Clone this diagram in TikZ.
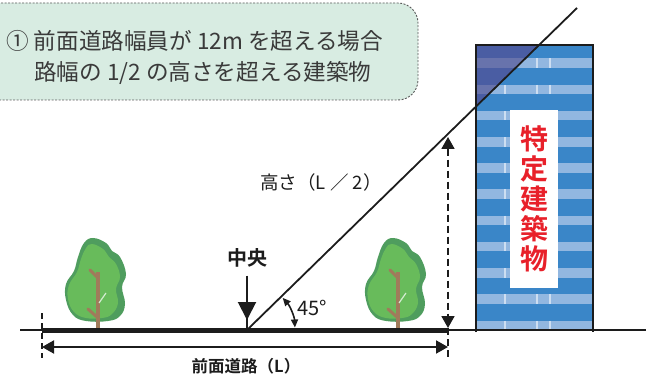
\documentclass[tikz,border=0pt]{standalone}
\usepackage{fontspec}
\usetikzlibrary{arrows.meta}
\newfontfamily\jp[BoldFont={Noto Sans CJK JP Bold}]{Noto Sans CJK JP}

\definecolor{titlefill}{HTML}{D8ECE2}
\definecolor{titleline}{HTML}{5A5A5A}
\definecolor{textgray}{HTML}{3A3A3A}
\definecolor{bldblue}{HTML}{3A86C8}
\definecolor{bldstripe}{HTML}{92B7E0}
\definecolor{bldnavy}{HTML}{4A5DA3}
\definecolor{navystripe}{HTML}{6873AC}
\definecolor{signred}{HTML}{E8202A}
\definecolor{leafdark}{HTML}{4F9D5E}
\definecolor{leaflight}{HTML}{68BB5B}
\definecolor{bark}{HTML}{A07B5B}
\definecolor{inkblack}{HTML}{1C1C1C}

\tikzset{
  bigtip/.tip={Triangle[length=12pt,width=13pt]},
  smalltip/.tip={Triangle[length=8pt,width=7pt]},
  dimline/.style={draw=inkblack, line width=2pt},
  dashline/.style={draw=inkblack, line width=1.8pt, dash pattern=on 7pt off 4pt},
  labeltext/.style={font=\jp\fontsize{18.5}{18.5}\selectfont, text=inkblack, inner sep=0pt},
  tree/.pic={
    % outer darker foliage
    \fill[leafdark] plot[smooth cycle, tension=0.7] coordinates {
      (-5,-92) (8,-87) (14,-79) (22,-73) (28,-56) (24,-43) (27,-26) (22,-14)
      (10,-9) (-12,-9) (-25,-15) (-32,-30) (-32,-46) (-24,-59) (-20,-73) (-14,-87)};
    % inner lighter foliage
    \fill[leaflight] plot[smooth cycle, tension=0.7] coordinates {
      (-6,-86) (5,-81) (11,-73) (18,-66) (22,-53) (18,-41) (20,-27) (14,-16)
      (4,-12) (-12,-12) (-24,-18) (-30,-31) (-29,-45) (-21,-58) (-17,-71) (-12,-82)};
    % trunk and branches
    \draw[bark, line width=4pt] (0,0) -- (0,-58);
    \draw[bark, line width=3pt, line cap=round] (0,-52) -- (-8,-60);
    \draw[bark, line width=3pt, line cap=round] (-1,-13) -- (-10,-21);
    \draw[white!70!leaflight, line width=1.2pt] (1,-27) -- (8,-37);
  }
}

\begin{document}
\begin{tikzpicture}[x=1pt, y=-1pt]
\useasboundingbox (0,0) rectangle (646,377);

% ---- heading panel ----
\begin{scope}
  \clip (0,0) rectangle (646,377);
  \draw[titleline, fill=titlefill, line width=0.9pt, dash pattern=on 2pt off 1.5pt, rounded corners=20pt]
    (-20,3) rectangle (418,100);
\end{scope}
\node[anchor=west, font=\jp\fontsize{22.6}{22.6}\selectfont, text=textgray, inner sep=0pt]
  (line1) at (6,41) {① 前面道路幅員が 12m を超える場合};
\node[anchor=west, font=\jp\fontsize{22.6}{22.6}\selectfont, text=textgray, inner sep=0pt]
  (line2) at (34,73) {路幅の 1/2 の高さを超える建築物};

% ---- key points (y grows downwards) ----
\coordinate (O) at (247,330);     % road centre
\coordinate (T) at (577,8);       % top of the 45 degree line
\coordinate (GL) at (20,330);
\coordinate (GR) at (646,330);
\coordinate (RL) at (42,330);
\coordinate (RR) at (448,330);

% ---- building ----
\begin{scope}
  \clip (476,45) rectangle (593,331);
  \fill[bldblue] (476,45) rectangle (593,331);
  \foreach \k in {0,...,10} {
    \fill[bldstripe] (476,{58.5+26.2*\k}) rectangle (593,{68+26.2*\k});
    \foreach \vx in {505,537,550}
      \draw[white, opacity=0.55, line width=1.6pt] (\vx,{58.5+26.2*\k}) -- (\vx,{68+26.2*\k});
  }
  % shaded part beyond the slant line
  \clip (O) -- (T) -- (247,0) -- cycle;
  \fill[bldnavy] (476,45) rectangle (593,331);
  \foreach \k in {0,...,3}
    \fill[navystripe] (476,{58.5+26.2*\k}) rectangle (593,{68+26.2*\k});
\end{scope}
\draw[inkblack, line width=2.4pt] (476,332) -- (476,45) -- (593,45) -- (593,332);
\fill[white] (510,110) rectangle (558,288);
\node[font=\jp\bfseries\fontsize{28}{30}\selectfont, text=signred, align=center, inner sep=0pt]
  (sign) at (534,199) {特\\定\\建\\築\\物};

% ---- trees ----
\pic (treeA) at (98,330) {tree};
\pic (treeB) at (398,330) {tree};

% ---- ground ----
\draw[inkblack, line width=2.5pt] (GL) -- (GR);
\draw[inkblack, line width=5pt] (RL) -- (RR);

% ---- 45 degree line ----
\draw[inkblack, line width=1.8pt] (O) -- (T);

% ---- angle mark (negative angles point up here) ----
\draw[inkblack, line width=1.6pt, smalltip-smalltip]
  ([shift={(-42:48)}]O) arc[start angle=-42, end angle=-3, radius=48];
\node[font=\jp\fontsize{20}{20}\selectfont, text=inkblack, inner sep=0pt] (ang) at (312,308) {45°};

% ---- centre marker ----
\node[font=\jp\bfseries\fontsize{20}{20}\selectfont, text=inkblack, inner sep=0pt] (mid) at (247,258) {中央};
\draw[inkblack, line width=2pt, -{Triangle[length=18pt,width=18pt]}] (mid.south) ++(0,8) -- (247,320);
\draw[inkblack, line width=2pt] (247,318) -- (O);

% ---- height dimension ----
\coordinate (HT) at (448,137);
\coordinate (HB) at (448,328);
\coordinate (HE) at (448,358);
\draw[dashline, bigtip-bigtip] (HT) -- (HB);
\draw[dashline] (HB) -- (HE);
\node[labeltext] (hlabel) at (321,182) {高さ（L ／ 2）};

% ---- road width dimension ----
\coordinate (LT) at (42,313);
\coordinate (LB) at (42,358);
\draw[dashline, line width=1.5pt, dash pattern=on 6pt off 4pt] (LT) -- (LB);
\draw[dimline, bigtip-bigtip] (42,347) -- (448,347);
\node[labeltext, font=\jp\bfseries\fontsize{16.5}{16.5}\selectfont] (wlabel) at (246,366) {前面道路（L）};

\end{tikzpicture}
\end{document}
